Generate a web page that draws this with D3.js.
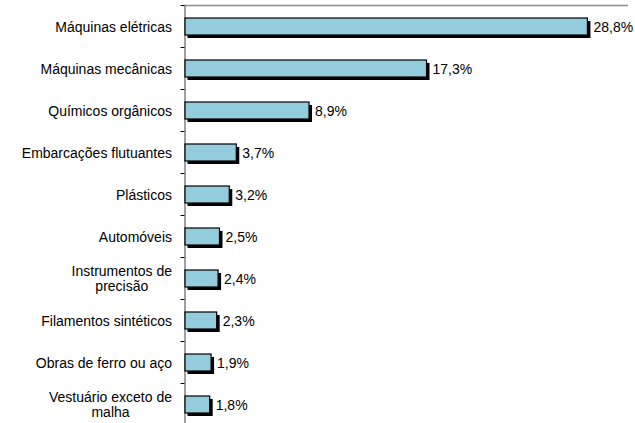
<!DOCTYPE html>
<html><head><meta charset="utf-8">
<script src="https://cdn.jsdelivr.net/npm/d3@7"></script>
<style>body{margin:0;background:#fff}svg{display:block}text{font-family:"Liberation Sans",Arial,sans-serif;fill:#000}</style>
</head><body>
<svg id="c" width="635" height="423"></svg>
<script>
const categories = [
  ["Máquinas elétricas"],
  ["Máquinas mecânicas"],
  ["Químicos orgânicos"],
  ["Embarcações flutuantes"],
  ["Plásticos"],
  ["Automóveis"],
  ["Instrumentos de","precisão"],
  ["Filamentos sintéticos"],
  ["Obras de ferro ou aço"],
  ["Vestuário exceto de","malha"]
];
const values = [28.8, 17.3, 8.9, 3.7, 3.2, 2.5, 2.4, 2.3, 1.9, 1.8];
const valueLabels = ["28,8%","17,3%","8,9%","3,7%","3,2%","2,5%","2,4%","2,3%","1,9%","1,8%"];

const svg = d3.select("#c");
const x0 = 184.5, x1 = 628, y0 = 5.5, y1 = 425.5;
const x = d3.scaleLinear().domain([0, 31.7]).range([x0, x1]);
const idx = d3.range(values.length);
const band = d3.scaleBand().domain(idx).range([y0, y1]);

// top border
svg.append("line").attr("x1", x0 - 2).attr("x2", x1).attr("y1", y0).attr("y2", y0)
  .attr("stroke", "#8c8c8c").attr("stroke-width", 1.5);

// axis
const ax = svg.append("g").attr("transform", `translate(${x0},0)`)
  .call(d3.axisLeft(band).tickSize(0).tickFormat(""));
ax.select(".domain").attr("stroke", "#808080").attr("stroke-width", 1.5);
ax.selectAll(".tick").remove();
// boundary ticks
const bounds = d3.range(values.length + 1).map(i => y0 + i * band.step());
svg.append("g").selectAll("line").data(bounds).join("line")
  .attr("x1", x0 - 4).attr("x2", x0).attr("y1", d => d).attr("y2", d => d)
  .attr("stroke", "#000").attr("stroke-width", 1);

const h = 17;
const g = svg.append("g");
// shadows
g.selectAll("rect.sh").data(idx).join("rect").attr("class", "sh")
  .attr("x", x0 + 3).attr("y", i => band(i) + band.bandwidth()/2 - h/2 + 3)
  .attr("width", i => x(values[i]) - x0).attr("height", h).attr("fill", "#000");
// bars
g.selectAll("rect.b").data(idx).join("rect").attr("class", "b")
  .attr("x", x0 + 0.5).attr("y", i => band(i) + band.bandwidth()/2 - h/2)
  .attr("width", i => x(values[i]) - x0 - 0.5).attr("height", h)
  .attr("fill", "#93CDDD").attr("stroke", "#000").attr("stroke-width", 1.2);

// value labels
g.selectAll("text.v").data(idx).join("text").attr("class", "v")
  .attr("x", i => x(values[i]) + 6).attr("y", i => band(i) + band.bandwidth()/2 + 5)
  .attr("font-size", "14px").text(i => valueLabels[i]);

// category labels
const labelRight = 172, lh = 15;
const cl = svg.append("g").selectAll("g").data(idx).join("g");
cl.each(function(i) {
  const lines = categories[i];
  const gg = d3.select(this);
  const cy = band(i) + band.bandwidth()/2 + 5 - (lines.length - 1) * lh / 2;
  if (lines.length === 1) {
    gg.append("text").attr("text-anchor", "end").attr("font-size", "14px")
      .attr("x", labelRight).attr("y", cy).text(lines[0]);
  } else {
    const ts = lines.map((t, j) => gg.append("text").attr("font-size", "14px")
      .attr("y", cy + j * lh).text(t));
    const w = d3.max(ts, t => t.node().getComputedTextLength());
    const cx = labelRight - w / 2;
    ts.forEach(t => t.attr("text-anchor", "middle").attr("x", cx));
  }
});
</script>
</body></html>
